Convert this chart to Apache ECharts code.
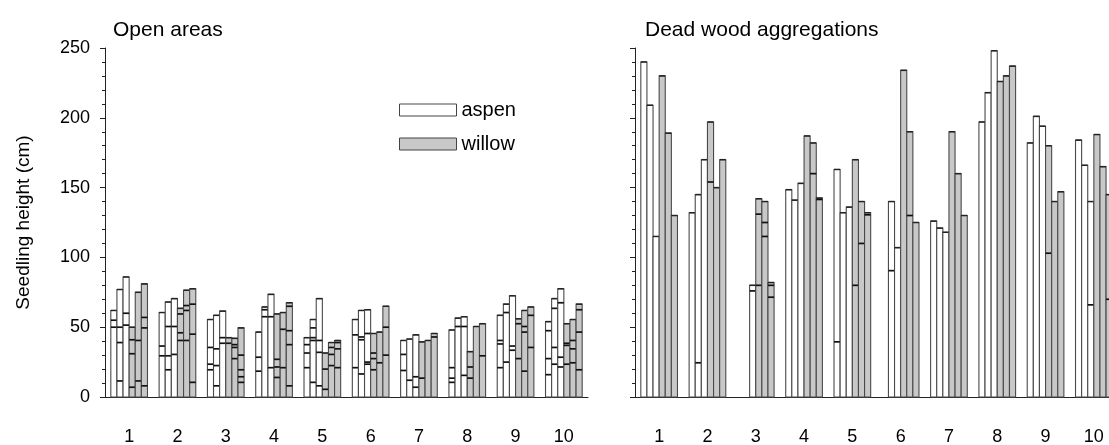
<!DOCTYPE html>
<html>
<head>
<meta charset="utf-8">
<script src="https://cdn.jsdelivr.net/npm/echarts@6/dist/echarts.min.js"></script>
<style>
html,body{margin:0;padding:0;background:#fff;}
#chart{width:1109px;height:445px;}
</style>
</head>
<body>
<div id="chart"></div>
<script>
// ---- DATA ----
const categories = ['1','2','3','4','5','6','7','8','9','10'];
const yTicks = [0, 50, 100, 150, 200, 250];
const panelTitles = ['Open areas', 'Dead wood aggregations'];
const yAxisName = 'Seedling height (cm)';
const speciesNames = ['aspen', 'willow'];

// Each group: three bars; each bar = [top height, internal mark heights...]; [] = no bar
const openAspen = [
  [[62, 55, 50], [77, 50, 39, 11.5], [86, 60, 51.5]],
  [[60.5, 36.5, 29.5], [68, 50.5, 29.5, 19.5], [70.5, 50.5, 30.5]],
  [[55.5, 35.5, 23.5, 19.5], [58.5, 34.5, 22.5, 8], [61.5, 42.5, 38.5]],
  [[46.5, 28.5, 18.5], [64.5, 62.5, 57.5], [73.5, 57.5, 21]],
  [[42.5, 37.5, 31.5, 21], [55.5, 49.5, 42.5, 40.5, 10.5], [70.5, 40.5, 32, 8]],
  [[55.5, 44.5, 21], [62, 43, 41, 16.5], [62.5, 45.5, 25, 23.5]],
  [[40.5, 30.5, 19], [41.5, 12], [44.5, 14.5, 7]],
  [[48, 21, 13.5, 10.5], [56.5, 50.5], [57.5, 50.5, 15.5]],
  [[58.5, 40.5, 38, 21], [66.5, 60.5, 25], [72.5, 36.5, 33.5]],
  [[54, 47.5, 27.5, 16], [70.5, 63.5, 35.5, 23.5], [77.5, 67.5, 28.5, 21.5]]
];
const openWillow = [
  [[50, 41, 31, 7], [75, 40.5, 11.5], [81, 57, 49.5, 8]],
  [[63.5, 59.5, 46, 40.5], [76.5, 65.5, 62, 40.5], [77.5, 66.5, 45, 10.5]],
  [[42.5, 38.5], [42, 37.5, 35.5, 27.5], [49.5, 30, 19.5, 14.5, 10.5]],
  [[59.5, 27, 21.5, 14], [60.5, 48.5, 21], [67.5, 65, 47.5, 37.5, 8]],
  [[31.5, 20, 5.5], [39, 35.5, 30.5, 22.5], [40.5, 39, 34.5, 21]],
  [[45.5, 31.5, 27.5, 19.5], [46.5, 24.5], [65, 50, 30]],
  [[39.5, 13.5], [40.5], [45.5, 43]],
  [[32.5, 21.5, 13.5], [50.5], [52.5, 29.5]],
  [[56, 52.5, 27.5], [62, 50.5, 46.5, 18.5], [64.5, 58.5, 35.5]],
  [[52.5, 38.5, 37, 23.5], [55.5, 40.5, 34.5, 24.5], [66.5, 62.5, 46.5, 19.5]]
];
const deadAspen = [
  [[240], [209], [115]],
  [[132], [145, 24.5], [170]],
  [[], [], [80, 76]],
  [[148.5], [141], [153]],
  [[163, 39.5], [132], [136]],
  [[], [140, 90.5], [107]],
  [[126], [121], [118]],
  [[197], [218], [248]],
  [[182], [201], [194]],
  [[184], [166], [140, 66]]
];
const deadWillow = [
  [[230], [189], [130]],
  [[197, 154], [150], [170]],
  [[142, 131, 80], [140, 125, 115], [82, 80, 71.5]],
  [[187], [182, 160], [142.5, 141.5]],
  [[170, 80], [140, 110], [132, 130.5]],
  [[234], [190, 130], [125]],
  [[190], [160], [130]],
  [[226], [230], [237]],
  [[180, 103], [140], [147]],
  [[188], [165], [145, 70]]
];

// ---- STYLE ----
const FONT = 'Liberation Sans, Arial, sans-serif';
const fills = { aspen: '#ffffff', willow: '#c8c8c8' };

function buildSeries(panel, name, groups, slotOffset) {
  const data = [];
  const marks = [];
  groups.forEach((bars, g) => {
    bars.forEach((bar, b) => {
      if (!bar.length) return;
      data.push([g, slotOffset + b, bar[0]]);
      marks.push(bar.slice(1));
    });
  });
  return {
    type: 'custom',
    name: name,
    xAxisIndex: panel,
    yAxisIndex: panel,
    clip: false,
    itemStyle: { color: fills[name], borderColor: '#333', borderWidth: 1 },
    encode: { x: 0, y: 2 },
    data: data,
    renderItem: function (params, api) {
      const g = api.value(0), s = api.value(1), top = api.value(2);
      const p0 = api.coord([g, 0]);
      const pt = api.coord([g, top]);
      const bw = api.size([1, 0])[0] * 0.1265;
      const x = p0[0] + (s - 3) * bw;
      const children = [{
        type: 'rect',
        shape: { x: x, y: pt[1], width: bw, height: p0[1] - pt[1] },
        style: { fill: fills[name], stroke: '#4a4a4a', lineWidth: 1.1 }
      }, {
        type: 'line',
        shape: { x1: x, y1: pt[1], x2: x + bw, y2: pt[1] },
        style: { stroke: '#222', lineWidth: 1.5 }
      }];
      marks[params.dataIndex].forEach(m => {
        const pm = api.coord([g, m]);
        children.push({
          type: 'line',
          shape: { x1: x, y1: pm[1], x2: x + bw, y2: pm[1] },
          style: { stroke: '#111', lineWidth: 1.7 }
        });
      });
      return { type: 'group', children: children };
    }
  };
}

const grids = [
  { left: 105, top: 48, width: 483, height: 349, outerBoundsMode: 'none', containLabel: false },
  { left: 635, top: 48, width: 483, height: 349, outerBoundsMode: 'none', containLabel: false }
];

function xAxisFor(i) {
  return {
    type: 'category', gridIndex: i, data: categories,
    axisLine: { lineStyle: { color: '#222', width: 1 } },
    axisTick: { alignWithLabel: true, length: 6, lineStyle: { color: '#444' } },
    axisLabel: { color: '#000', fontSize: 18, fontFamily: FONT, margin: 31 },
    splitLine: { show: false }
  };
}
function yAxisFor(i) {
  return {
    type: 'value', gridIndex: i, min: yTicks[0], max: yTicks[yTicks.length - 1], interval: 50,
    name: i === 0 ? yAxisName : '',
    nameLocation: 'middle', nameGap: 72,
    nameTextStyle: { color: '#000', fontSize: 19, fontFamily: FONT },
    axisLine: { show: true, lineStyle: { color: '#222', width: 1 } },
    axisTick: { show: true, length: 5, lineStyle: { color: '#222' } },
    minorTick: { show: true, splitNumber: 5, length: 3, lineStyle: { color: '#222' } },
    axisLabel: { show: i === 0, color: '#000', fontSize: 18, fontFamily: FONT, margin: 15 },
    splitLine: { show: false }
  };
}

const option = {
  animation: false,
  backgroundColor: '#fff',
  title: [
    { text: panelTitles[0], left: 108, top: 15, textStyle: { fontSize: 21, fontWeight: 'normal', color: '#000', fontFamily: FONT } },
    { text: panelTitles[1], left: 640, top: 15, textStyle: { fontSize: 21, fontWeight: 'normal', color: '#000', fontFamily: FONT } }
  ],
  legend: {
    data: speciesNames, orient: 'vertical', left: 399, top: 100, padding: 0,
    icon: 'rect', itemWidth: 57, itemHeight: 12, itemGap: 14,
    itemStyle: { borderColor: '#444', borderWidth: 1 },
    textStyle: { fontSize: 20, color: '#000', fontFamily: FONT }
  },
  grid: grids,
  xAxis: [xAxisFor(0), xAxisFor(1)],
  yAxis: [yAxisFor(0), yAxisFor(1)],
  series: [
    buildSeries(0, 'aspen', openAspen, 0),
    buildSeries(0, 'willow', openWillow, 3),
    buildSeries(1, 'aspen', deadAspen, 0),
    buildSeries(1, 'willow', deadWillow, 3)
  ]
};

const chart = echarts.init(document.getElementById('chart'), null, { renderer: 'canvas' });
chart.setOption(option);
</script>
</body>
</html>
